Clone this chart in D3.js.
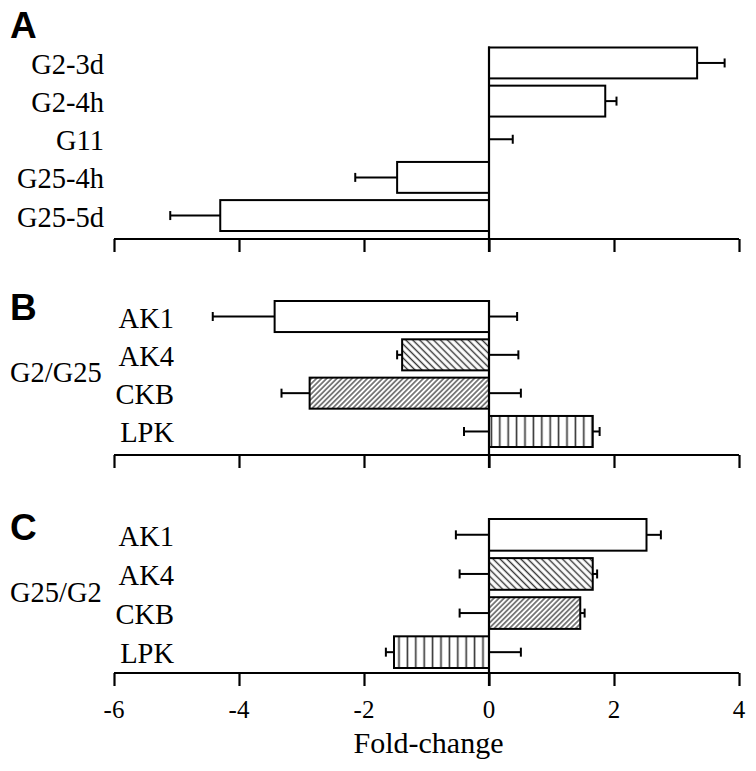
<!DOCTYPE html>
<html>
<head>
<meta charset="utf-8">
<script src="https://cdn.jsdelivr.net/npm/d3@7"></script>
<style>
  html, body { margin: 0; padding: 0; background: #fff; }
  svg { display: block; }
  .serif { font-family: "Liberation Serif", "Times New Roman", Times, serif; }
  .sans { font-family: "Liberation Sans", Arial, Helvetica, sans-serif; }
</style>
</head>
<body>
<svg id="chart" width="756" height="771"></svg>
<script>
// ---------- DATA ----------
const xTicks = [-6, -4, -2, 0, 2, 4];
const xTitle = "Fold-change";

const catsA = ["G2-3d", "G2-4h", "G11", "G25-4h", "G25-5d"];
const valuesA = [3.33, 1.86, 0, -1.47, -4.30];
const errorsA = [0.44, 0.18, 0.38, 0.67, 0.80];

const genes = ["AK1", "AK4", "CKB", "LPK"];
const geneFills = ["none", "back", "fwd", "vert"];

const groupB = "G2/G25";
const valuesB = [-3.43, -1.39, -2.87, 1.66];
const errorsB = [0.99, 0.08, 0.45, 0.11];
const ctrlErrorsB = [0.45, 0.47, 0.51, 0.40];

const groupC = "G25/G2";
const valuesC = [2.52, 1.66, 1.46, -1.52];
const errorsC = [0.23, 0.07, 0.07, 0.13];
const ctrlErrorsC = [0.53, 0.47, 0.47, 0.51];

// ---------- LAYOUT ----------
const svg = d3.select("#chart");
const SX = 1.0;

const x = d3.scaleLinear().domain([-6, 4]).range([114, 739]);

// patterns
const defs = svg.append("defs");
function hatch(id, w, angle, sw) {
  const p = defs.append("pattern").attr("id", id)
    .attr("patternUnits", "userSpaceOnUse")
    .attr("width", w).attr("height", w)
    .attr("patternTransform", `rotate(${angle})`);
  p.append("rect").attr("width", w).attr("height", w).attr("fill", "#fff");
  p.append("line").attr("x1", w / 2).attr("x2", w / 2).attr("y1", -1).attr("y2", w + 1)
    .attr("stroke", "#333").attr("stroke-width", sw);
}
hatch("back", 4.9, -45, 1.4);
hatch("fwd", 3.6, 45, 1.2);
hatch("vert", 8.4, 0, 1.6);

function fillFor(key) { return key === "none" ? "#fff" : `url(#${key})`; }

function stretchedText(g, tx, ty, str, size, cls, anchor, weight) {
  return g.append("text")
    .attr("class", cls)
    .attr("transform", `translate(${tx},${ty}) scale(${SX},1)`)
    .attr("text-anchor", anchor)
    .style("font-size", size + "px")
    .style("font-weight", weight || "normal")
    .attr("fill", "#000")
    .text(str);
}

function panel(opts) {
  const g = svg.append("g");
  const y = d3.scaleBand().domain(opts.cats).range([opts.top, opts.bottom]).paddingInner(0.19).paddingOuter(0);
  const rows = opts.cats.map((c, i) => ({
    cat: c, v: opts.values[i], e: opts.errors[i],
    ce: opts.ctrl ? opts.ctrl[i] : null,
    fill: opts.fills ? opts.fills[i] : "none"
  }));

  // axis
  const axis = d3.axisBottom(x).tickValues(xTicks).tickSize(13).tickFormat("");
  const ag = g.append("g").attr("transform", `translate(0,${opts.axisY})`).call(axis);
  ag.select(".domain").attr("stroke", "#000").attr("stroke-width", 2.2)
    .attr("d", `M${x(-6)},0H${x(4)}`);
  ag.selectAll(".tick line").attr("stroke", "#000").attr("stroke-width", 2.2);
  ag.selectAll(".tick text").remove();
  if (opts.tickLabels) {
    xTicks.forEach(t => {
      stretchedText(g, x(t), opts.axisY + 45, String(t), 25, "serif", "middle");
    });
  }

  // bars
  g.selectAll("rect.bar").data(rows).join("rect").attr("class", "bar")
    .attr("x", d => x(Math.min(0, d.v)))
    .attr("y", d => y(d.cat))
    .attr("width", d => Math.abs(x(d.v) - x(0)))
    .attr("height", y.bandwidth())
    .attr("fill", d => fillFor(d.fill))
    .attr("stroke", "#000").attr("stroke-width", 2)
    .attr("display", d => d.v === 0 ? "none" : null);

  // error bars
  const eb = g.append("g").attr("stroke", "#000").attr("stroke-width", 2);
  rows.forEach(d => {
    const cy = y(d.cat) + y.bandwidth() / 2;
    const dir = d.v >= 0 ? 1 : -1;
    const end = d.v + dir * d.e;
    eb.append("line").attr("x1", x(d.v)).attr("x2", x(end)).attr("y1", cy).attr("y2", cy);
    eb.append("line").attr("x1", x(end)).attr("x2", x(end)).attr("y1", cy - 4.5).attr("y2", cy + 4.5);
    if (d.ce != null) {
      const cend = -dir * d.ce;
      eb.append("line").attr("x1", x(0)).attr("x2", x(cend)).attr("y1", cy).attr("y2", cy);
      eb.append("line").attr("x1", x(cend)).attr("x2", x(cend)).attr("y1", cy - 4.5).attr("y2", cy + 4.5);
    }
  });

  // zero line
  g.append("line").attr("x1", x(0)).attr("x2", x(0))
    .attr("y1", opts.top - 1).attr("y2", opts.axisY + 13)
    .attr("stroke", "#000").attr("stroke-width", 2.2);

  // category labels
  rows.forEach(d => {
    stretchedText(g, opts.labelX, y(d.cat) + y.bandwidth() / 2 + 11, d.cat, 28.5, "serif", "end");
  });
  if (opts.group) {
    stretchedText(g, 10, (opts.top + opts.bottom) / 2 + 8, opts.group, 28.5, "serif", "start");
  }
  stretchedText(g, 10, opts.letterY, opts.letter, 37, "sans", "start", "bold");
}

panel({ cats: catsA, values: valuesA, errors: errorsA, top: 47.5, bottom: 231,
        axisY: 239, labelX: 104, letter: "A", letterY: 38 });
panel({ cats: genes, values: valuesB, errors: errorsB, ctrl: ctrlErrorsB, fills: geneFills,
        top: 301, bottom: 447, axisY: 455, labelX: 174, group: groupB, letter: "B", letterY: 320 });
panel({ cats: genes, values: valuesC, errors: errorsC, ctrl: ctrlErrorsC, fills: geneFills,
        top: 519, bottom: 668, axisY: 673, labelX: 174, group: groupC, letter: "C", letterY: 540,
        tickLabels: true });

stretchedText(svg, x(-6) + (x(4) - x(-6)) / 2 + 2, 753, xTitle, 30, "serif", "middle");
</script>
</body>
</html>
